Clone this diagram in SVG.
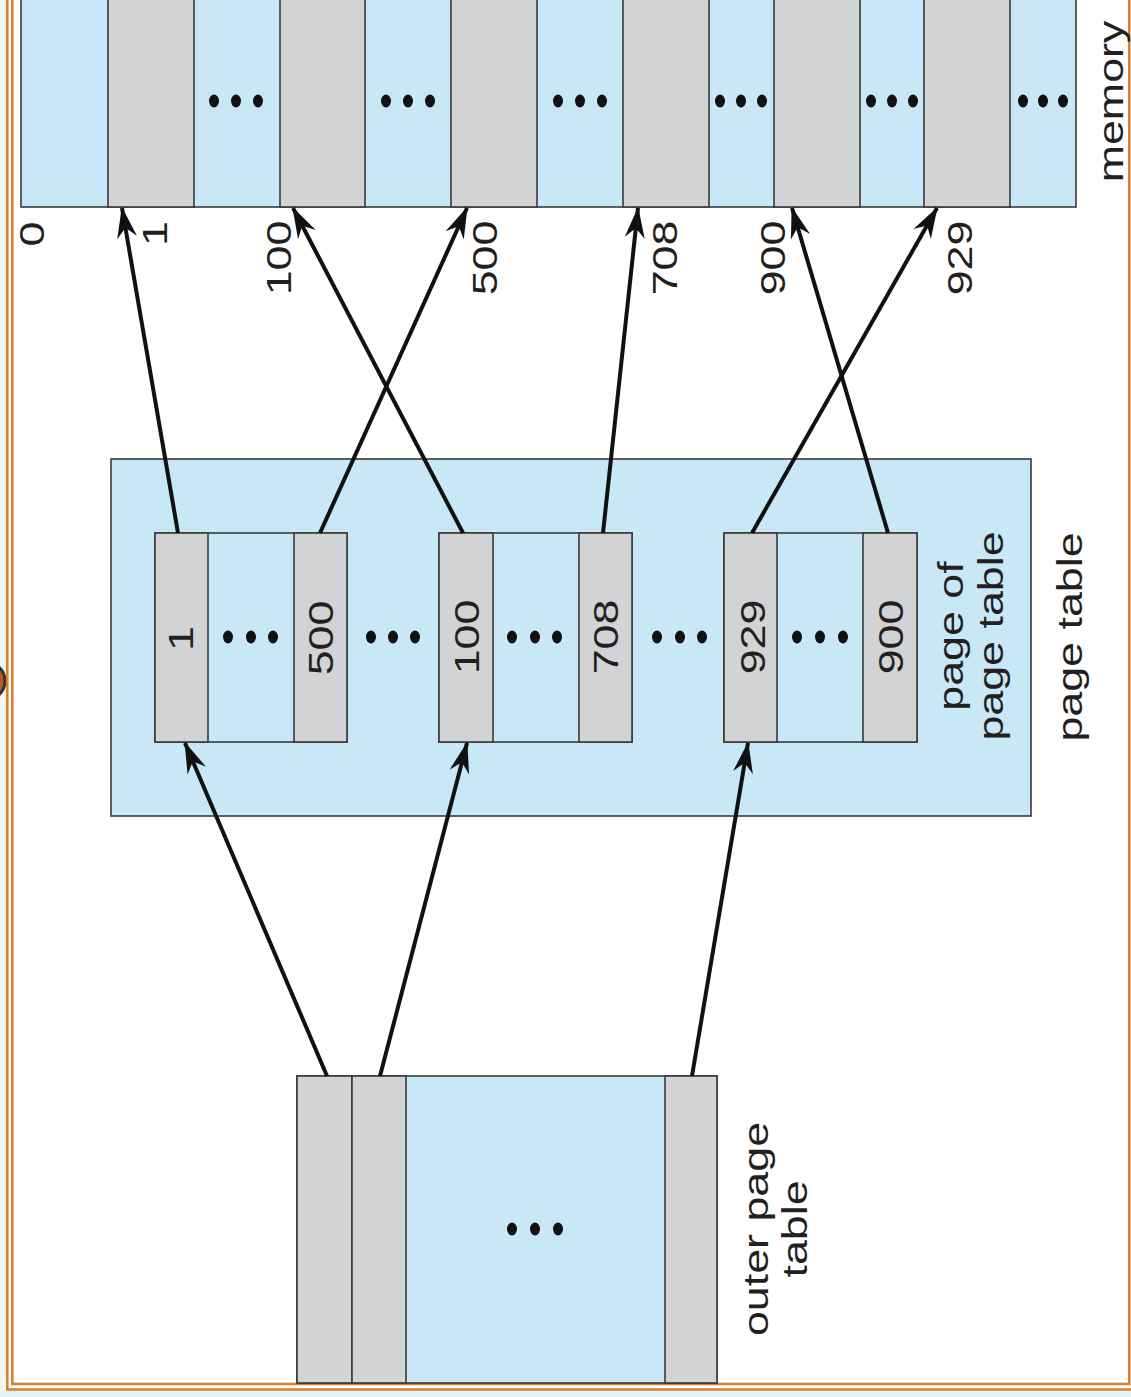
<svg xmlns="http://www.w3.org/2000/svg" width="1131" height="1397" viewBox="0 0 1131 1397">
<style>
.bl{fill:#c8e8f8;stroke:#3a3a3a;stroke-width:1.6}
.gr{fill:#d1d3d4;stroke:#3a3a3a;stroke-width:1.6}
.dot{fill:#111}
.t{font-family:"Liberation Sans",Arial,Helvetica,sans-serif;font-size:35px;fill:#231f20}
.c{stroke:#111;stroke-width:4;fill:none;marker-end:url(#ah)}
.ob{fill:none;stroke:#d98030;stroke-width:2.6}
</style>
<defs>
<marker id="ah" markerUnits="userSpaceOnUse" markerWidth="40" markerHeight="30" viewBox="-28 -12 32 24" refX="0" refY="0" orient="auto">
<path d="M1,0 L-24,-8 L-16,0 L-24,8 Z" fill="#111"/>
</marker>
</defs>
<!-- background -->
<rect x="0" y="0" width="1131" height="1397" fill="#e3f1f9"/>
<rect x="0" y="0" width="7" height="1391" fill="#f3f5f5"/>
<rect x="7" y="-5" width="1130" height="1396" fill="#ffffff"/>
<g id="slide-marker">
<circle cx="-14" cy="681" r="19" fill="#c0551f" stroke="#333" stroke-width="3"/>
</g>
<g id="border">
<rect x="7.3" y="-10" width="1130" height="1399.5" class="ob"/>
<rect x="12.3" y="-10" width="1117" height="1394" class="ob" stroke-width="2.2"/>
</g>
<g id="memory">
<rect class="bl" x="21" y="-5" width="1055" height="212"/>
<rect class="gr" x="108" y="-5" width="86" height="212"/>
<rect class="gr" x="280" y="-5" width="85" height="212"/>
<rect class="gr" x="451" y="-5" width="86" height="212"/>
<rect class="gr" x="623" y="-5" width="86" height="212"/>
<rect class="gr" x="774" y="-5" width="86" height="212"/>
<rect class="gr" x="924" y="-5" width="86" height="212"/>
<g class="dot">
<ellipse cx="214" cy="101" rx="5" ry="6.5"/><ellipse cx="236" cy="101" rx="5" ry="6.5"/><ellipse cx="258" cy="101" rx="5" ry="6.5"/>
<ellipse cx="386" cy="101" rx="5" ry="6.5"/><ellipse cx="408" cy="101" rx="5" ry="6.5"/><ellipse cx="430" cy="101" rx="5" ry="6.5"/>
<ellipse cx="558" cy="101" rx="5" ry="6.5"/><ellipse cx="580" cy="101" rx="5" ry="6.5"/><ellipse cx="602" cy="101" rx="5" ry="6.5"/>
<ellipse cx="720" cy="101" rx="5" ry="6.5"/><ellipse cx="741" cy="101" rx="5" ry="6.5"/><ellipse cx="762" cy="101" rx="5" ry="6.5"/>
<ellipse cx="871" cy="101" rx="5" ry="6.5"/><ellipse cx="892" cy="101" rx="5" ry="6.5"/><ellipse cx="913" cy="101" rx="5" ry="6.5"/>
<ellipse cx="1023" cy="101" rx="5" ry="6.5"/><ellipse cx="1043" cy="101" rx="5" ry="6.5"/><ellipse cx="1063" cy="101" rx="5" ry="6.5"/>
</g>
<text class="t" text-anchor="middle" transform="translate(44,234) rotate(-90) scale(1.28,1)">0</text>
<text class="t" text-anchor="middle" transform="translate(167,233.5) rotate(-90) scale(1.28,1)">1</text>
<text class="t" text-anchor="middle" transform="translate(291,258) rotate(-90) scale(1.28,1)">100</text>
<text class="t" text-anchor="middle" transform="translate(497,258) rotate(-90) scale(1.28,1)">500</text>
<text class="t" text-anchor="middle" transform="translate(677,258) rotate(-90) scale(1.28,1)">708</text>
<text class="t" text-anchor="middle" transform="translate(785,258) rotate(-90) scale(1.28,1)">900</text>
<text class="t" text-anchor="middle" transform="translate(972,258) rotate(-90) scale(1.28,1)">929</text>
<text class="t" text-anchor="middle" transform="translate(1123,101.5) rotate(-90) scale(1.28,1)">memory</text>
</g>
<g id="page-table">
<rect class="bl" x="111" y="459" width="920" height="357"/>
<text class="t" text-anchor="middle" transform="translate(963,636) rotate(-90) scale(1.28,1)"><tspan x="0" y="0">page of</tspan><tspan x="0" y="40">page table</tspan></text>
<text class="t" text-anchor="middle" transform="translate(1082,637) rotate(-90) scale(1.28,1)">page table</text>
</g>
<g id="ppt-1">
<rect class="bl" x="155" y="533" width="192" height="209"/>
<rect class="gr" x="155" y="533" width="53" height="209"/>
<rect class="gr" x="294" y="533" width="53" height="209"/>
<g class="dot"><ellipse cx="228" cy="637" rx="5" ry="6.5"/><ellipse cx="251" cy="637" rx="5" ry="6.5"/><ellipse cx="273" cy="637" rx="5" ry="6.5"/></g>
<text class="t" text-anchor="middle" transform="translate(193,638.5) rotate(-90) scale(1.28,1)">1</text>
<text class="t" text-anchor="middle" transform="translate(333,638) rotate(-90) scale(1.28,1)">500</text>
</g>
<g id="gap-dots" class="dot">
<ellipse cx="371" cy="637" rx="5" ry="6.5"/><ellipse cx="393" cy="637" rx="5" ry="6.5"/><ellipse cx="415" cy="637" rx="5" ry="6.5"/>
<ellipse cx="657" cy="637" rx="5" ry="6.5"/><ellipse cx="680" cy="637" rx="5" ry="6.5"/><ellipse cx="702" cy="637" rx="5" ry="6.5"/>
</g>
<g id="ppt-2">
<rect class="bl" x="439" y="533" width="193" height="209"/>
<rect class="gr" x="439" y="533" width="54" height="209"/>
<rect class="gr" x="579" y="533" width="53" height="209"/>
<g class="dot"><ellipse cx="512" cy="637" rx="5" ry="6.5"/><ellipse cx="535" cy="637" rx="5" ry="6.5"/><ellipse cx="557" cy="637" rx="5" ry="6.5"/></g>
<text class="t" text-anchor="middle" transform="translate(479,637) rotate(-90) scale(1.28,1)">100</text>
<text class="t" text-anchor="middle" transform="translate(618,637) rotate(-90) scale(1.28,1)">708</text>
</g>
<g id="ppt-3">
<rect class="bl" x="724" y="533" width="193" height="209"/>
<rect class="gr" x="724" y="533" width="53" height="209"/>
<rect class="gr" x="863" y="533" width="54" height="209"/>
<g class="dot"><ellipse cx="797" cy="637" rx="5" ry="6.5"/><ellipse cx="820" cy="637" rx="5" ry="6.5"/><ellipse cx="843" cy="637" rx="5" ry="6.5"/></g>
<text class="t" text-anchor="middle" transform="translate(765,637) rotate(-90) scale(1.28,1)">929</text>
<text class="t" text-anchor="middle" transform="translate(903,637) rotate(-90) scale(1.28,1)">900</text>
</g>
<g id="outer-page-table">
<rect class="bl" x="297" y="1076" width="420" height="307" stroke-width="2"/>
<rect class="gr" x="297" y="1076" width="55" height="307" stroke-width="2"/>
<rect class="gr" x="352" y="1076" width="54" height="307" stroke-width="2"/>
<rect class="gr" x="665" y="1076" width="52" height="307" stroke-width="2"/>
<g class="dot"><ellipse cx="512" cy="1229" rx="5" ry="6.5"/><ellipse cx="535" cy="1229" rx="5" ry="6.5"/><ellipse cx="558" cy="1229" rx="5" ry="6.5"/></g>
<text class="t" text-anchor="middle" transform="translate(768,1229) rotate(-90) scale(1.28,1)"><tspan x="0" y="0">outer page</tspan><tspan x="0" y="39">table</tspan></text>
</g>
<g id="connectors">
<line class="c" x1="327" y1="1076" x2="185" y2="743"/>
<line class="c" x1="380" y1="1076" x2="467" y2="743"/>
<line class="c" x1="692" y1="1076" x2="748" y2="743"/>
<line class="c" x1="178" y1="533" x2="122" y2="208"/>
<line class="c" x1="320" y1="533" x2="467" y2="208"/>
<line class="c" x1="463" y1="533" x2="293" y2="208"/>
<line class="c" x1="603" y1="533" x2="638" y2="208"/>
<line class="c" x1="752" y1="533" x2="937" y2="208"/>
<line class="c" x1="888" y1="533" x2="792" y2="208"/>
</g>
</svg>
